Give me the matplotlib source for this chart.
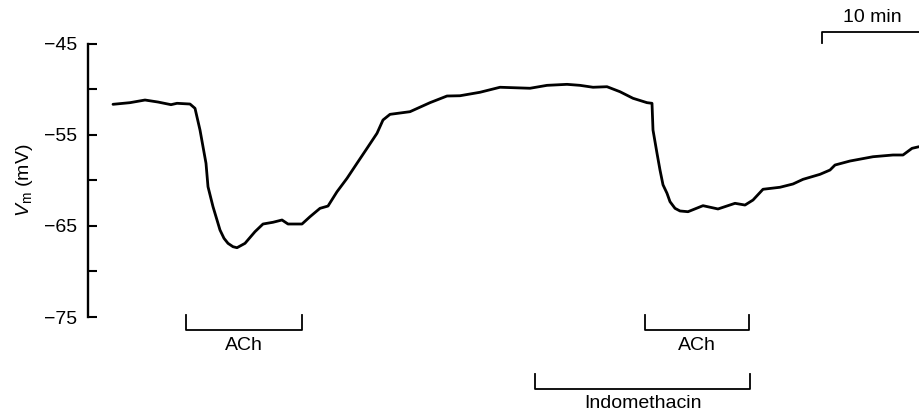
import matplotlib
matplotlib.use("Agg")
import matplotlib.pyplot as plt

plt.rcParams['font.family'] = ['Liberation Sans', 'DejaVu Sans']
plt.rcParams['mathtext.fontset'] = 'custom'
plt.rcParams['mathtext.rm'] = 'Liberation Sans'
plt.rcParams['mathtext.it'] = 'Liberation Sans:italic'

# ---- data (time in min, membrane potential in mV) ----
time_min = [0.0, 1.7, 3.2, 4.5, 5.8, 6.4, 7.7, 8.2, 8.7, 9.3, 9.5, 10.0, 10.4,
            10.7, 11.1, 11.5, 12.0, 12.4, 13.2, 14.2, 15.0, 16.0, 16.9, 17.5,
            18.9, 19.7, 20.7, 21.5, 22.4, 23.4, 24.4, 25.4, 26.4, 27.0, 27.7,
            29.7, 31.7, 33.4, 34.7, 36.7, 38.7, 41.7, 43.4, 45.4, 46.7, 48.0,
            49.4, 50.7, 52.0, 53.4, 53.9, 54.0, 54.4, 54.7, 55.0, 55.4, 55.7,
            56.2, 56.7, 57.5, 59.0, 60.5, 62.2, 63.2, 64.0, 65.0, 66.7, 68.0,
            69.0, 70.7, 71.7, 72.2, 73.7, 76.0, 78.0, 79.0, 79.9, 80.6]
vm_mv = [-51.67, -51.49, -51.20, -51.42, -51.71, -51.56, -51.64, -52.11, -54.49,
         -58.14, -60.71, -62.90, -64.36, -65.46, -66.37, -66.92, -67.29, -67.40,
         -66.92, -65.64, -64.80, -64.61, -64.36, -64.80, -64.80, -64.00, -63.08,
         -62.83, -61.26, -59.79, -58.14, -56.50, -54.85, -53.39, -52.77, -52.48,
         -51.49, -50.76, -50.73, -50.35, -49.80, -49.91, -49.59, -49.48, -49.59,
         -49.80, -49.74, -50.29, -51.01, -51.49, -51.56, -54.49, -57.04, -58.88,
         -60.50, -61.43, -62.35, -63.08, -63.37, -63.45, -62.79, -63.15, -62.53,
         -62.72, -62.17, -60.99, -60.77, -60.41, -59.90, -59.35, -58.88, -58.33,
         -57.89, -57.42, -57.23, -57.23, -56.50, -56.32]

bracket_labels = ['ACh', 'ACh', 'Indomethacin']
bracket_start = [7.3, 53.2, 42.2]
bracket_end = [18.9, 63.6, 63.7]

yticks_major = [-45, -55, -65, -75]
yticks_minor = [-50, -60, -70]

scale_start = 70.9
scale_len = 10  # min

FS = 14

# ---- figure ----
fig = plt.figure(figsize=(9.19, 4.12), dpi=100)
ax = fig.add_axes([88/919, 1 - 317/412, 1 - 88/919, (317 - 43.5)/412])

ax.plot(time_min, vm_mv, color='black', lw=2.0, solid_joinstyle='round',
        solid_capstyle='round')

ax.set_xlim(-2.5, 80.6)
ax.set_ylim(-75, -45)

for s in ['top', 'right', 'bottom']:
    ax.spines[s].set_visible(False)
ax.spines['left'].set_linewidth(1.7)
ax.set_xticks([])
ax.set_yticks(yticks_major)
ax.set_yticks(yticks_minor, minor=True)
ax.tick_params(axis='y', which='both', direction='in', length=6.5, width=1.5,
               labelsize=FS, pad=8)
ax.set_ylabel(r'$V_{\mathrm{m}}$ (mV)', fontsize=FS)
ax.yaxis.set_label_coords(-0.064, 0.5)

# brackets (rows below axis)
rows = [(-74.78, -76.43, -78.1), (-74.78, -76.43, -78.1), (-81.25, -82.9, -84.45)]
for lab, x0, x1, (ytop, ybot, ytxt) in zip(bracket_labels, bracket_start,
                                           bracket_end, rows):
    ax.plot([x0, x0, x1, x1], [ytop, ybot, ybot, ytop], color='black', lw=1.3,
            clip_on=False)
    ax.text((x0 + x1) / 2, ytxt, lab, ha='center', va='center', fontsize=FS,
            clip_on=False)

# scale bar
ax.plot([scale_start, scale_start, scale_start + scale_len],
        [-44.95, -43.74, -43.74], color='black', lw=1.3, clip_on=False)
ax.text(scale_start + scale_len / 2, -42.1, f'{scale_len} min', ha='center',
        va='center', fontsize=FS, clip_on=False)

fig.savefig('out.png', dpi=100)
